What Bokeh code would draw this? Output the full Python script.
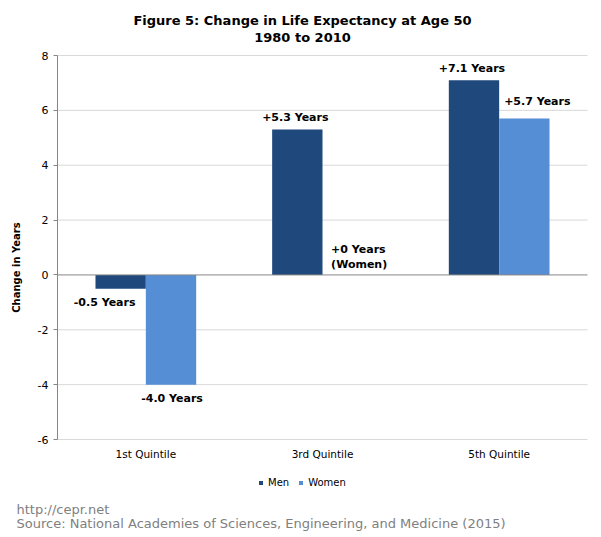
from bokeh.plotting import figure
from bokeh.models import ColumnDataSource, LabelSet, Label, FixedTicker, Range1d, Legend, LegendItem
from bokeh.transform import dodge
from bokeh.core.properties import value
from bokeh.embed import file_html
from bokeh.resources import INLINE

# ---- data ----
categories = ["1st Quintile", "3rd Quintile", "5th Quintile"]
men = [-0.5, 5.3, 7.1]
women = [-4.0, 0.0, 5.7]
men_labels = ["-0.5 Years", "+5.3 Years", "+7.1 Years"]
women_labels = ["-4.0 Years", "+0 Years\n(Women)", "+5.7 Years"]
y_ticks = [-6, -4, -2, 0, 2, 4, 6, 8]
title_lines = ["Figure 5: Change in Life Expectancy at Age 50", "1980 to 2010"]
y_title = "Change in Years"
footer_lines = ["http://cepr.net",
                "Source: National Academies of Sciences, Engineering, and Medicine (2015)"]

MEN_COLOR = "#1F497D"
WOMEN_COLOR = "#558ED5"
AXIS_COLOR = "#868686"
GRID_COLOR = "#D9D9D9"
FONT = "DejaVu Sans"

# ---- layout geometry (pixels) ----
W, H = 601, 537
PLOT_L, PLOT_R, PLOT_T, PLOT_B = 57, 587, 55, 439
ncat = len(categories)
ymin, ymax = min(y_ticks), max(y_ticks)
px_x = (PLOT_R - PLOT_L) / ncat
px_y = (PLOT_B - PLOT_T) / (ymax - ymin)
x_range = Range1d(-PLOT_L / px_x, ncat + (W - PLOT_R) / px_x)
y_range = Range1d(ymax - (H - PLOT_T) / px_y, ymax + PLOT_T / px_y)

p = figure(x_range=x_range, y_range=y_range, width=W, height=H,
           output_backend="svg", toolbar_location=None, tools="",
           min_border=0, min_border_left=0, min_border_right=0,
           min_border_top=0, min_border_bottom=0)
p.outline_line_color = None
p.title.visible = False
p.xgrid.visible = False
p.ygrid.visible = False

xpos = [i + 0.5 for i in range(ncat)]

# gridlines from the tick list
grid_src = ColumnDataSource(data=dict(y=[t for t in y_ticks if t != 0]))
p.segment(x0=0, x1=ncat, y0="y", y1="y", source=grid_src, line_color=GRID_COLOR, line_width=1)

src = ColumnDataSource(data=dict(x=xpos, men=men, women=women))
BW = 0.285
r_men = p.vbar(x=dodge("x", -BW / 2), top="men", bottom=0, width=BW,
               source=src, fill_color=MEN_COLOR, line_color=None)
r_women = p.vbar(x=dodge("x", BW / 2), top="women", bottom=0, width=BW,
                 source=src, fill_color=WOMEN_COLOR, line_color=None)

# zero line
p.segment(x0=0, x1=ncat, y0=0, y1=0, line_color=AXIS_COLOR, line_width=1)

# data labels (offsets are styling, in pixels)
men_dx = [-16, -2, -2]
men_dy = [-14, 12, 12]
women_dx = [1, 11.5, 13]
women_dy = [-14, 18, 17]
lsrc_m = ColumnDataSource(data=dict(x=xpos, y=men, t=men_labels, dx=men_dx, dy=men_dy))
lsrc_w = ColumnDataSource(data=dict(x=xpos, y=women, t=women_labels, dx=women_dx, dy=women_dy))
for s, d in ((lsrc_m, -BW / 2), (lsrc_w, BW / 2)):
    p.add_layout(LabelSet(x=dodge("x", d), y="y", text="t", source=s,
                          x_offset="dx", y_offset="dy", text_align="center",
                          text_baseline="middle", text_font=value(FONT),
                          text_font_size="11px", text_font_style="bold",
                          text_color="#000000"))

# axes (drawn at fixed locations inside the full-canvas frame)
yax = p.yaxis[0]
yax.fixed_location = 0
yax.bounds = (ymin, ymax)
yax.ticker = FixedTicker(ticks=y_ticks)
yax.major_label_overrides = {t: str(t) for t in y_ticks}
yax.axis_line_color = AXIS_COLOR
yax.major_tick_line_color = AXIS_COLOR
yax.major_tick_out = 4
yax.major_tick_in = 0
yax.minor_tick_line_color = None
yax.major_label_standoff = 5
yax.major_label_text_font = FONT
yax.major_label_text_font_size = "11px"
yax.major_label_text_color = "#000000"

xax = p.xaxis[0]
xax.fixed_location = ymin
xax.bounds = (0, ncat)
xax.ticker = FixedTicker(ticks=xpos)
xax.major_label_overrides = {x: c for x, c in zip(xpos, categories)}
xax.axis_line_color = None
xax.major_tick_line_color = None
xax.minor_tick_line_color = None
xax.major_tick_out = 0
xax.major_tick_in = 0
xax.major_label_standoff = 8
xax.major_label_text_font = FONT
xax.major_label_text_font_size = "10.5px"
xax.major_label_text_color = "#000000"

# texts (screen px from the canvas bottom-left)
for txt, yy in zip(title_lines, [H - 20, H - 37]):
    p.add_layout(Label(x=302, y=yy, x_units="screen", y_units="screen", text=txt,
                       text_align="center", text_baseline="middle", text_font=FONT,
                       text_font_size="13px", text_font_style="bold", text_color="#000000"))
p.add_layout(Label(x=16, y=H - 267, x_units="screen", y_units="screen", text=y_title,
                   angle=90, angle_units="deg", text_align="center", text_baseline="middle",
                   text_font=FONT, text_font_size="10px", text_font_style="bold",
                   text_color="#000000"))
for txt, yy in zip(footer_lines, [H - 508.5, H - 523]):
    p.add_layout(Label(x=16, y=yy, x_units="screen", y_units="screen", text=txt,
                       text_align="left", text_baseline="middle", text_font=FONT,
                       text_font_size="13px", text_color="#808080"))

# legend
lg = Legend(items=[LegendItem(label="Men", renderers=[r_men]),
                   LegendItem(label="Women", renderers=[r_women])],
            location=(258, H - 488), orientation="horizontal",
            glyph_width=5, glyph_height=5, label_standoff=5, spacing=9,
            padding=0, margin=0, label_height=12,
            label_text_font=FONT, label_text_font_size="10px",
            label_text_color="#000000", border_line_color=None,
            background_fill_alpha=0)
p.add_layout(lg)

open("out.html", "w").write(file_html(p, INLINE))
